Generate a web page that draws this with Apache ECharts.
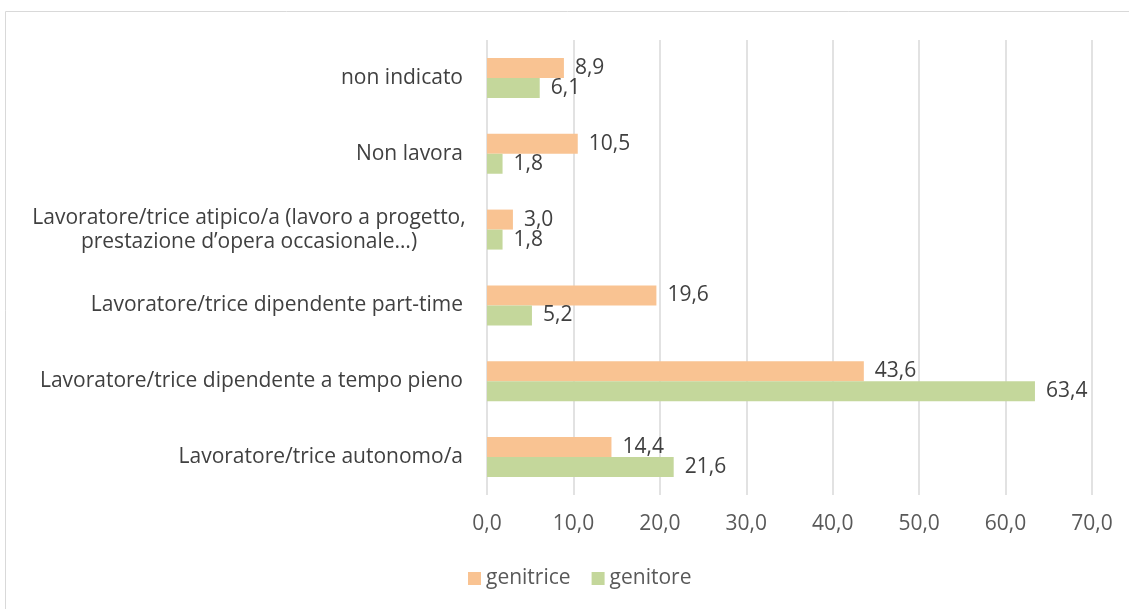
<!DOCTYPE html>
<html>
<head>
<meta charset="utf-8">
<script src="https://cdn.jsdelivr.net/npm/echarts@6/dist/echarts.min.js"></script>
<style>
html, body { margin: 0; padding: 0; background: #fff; }
#chart { width: 1129px; height: 609px; }
</style>
</head>
<body>
<div id="chart"></div>
<script>
// categories from bottom to top
var categories = [
	'Lavoratore/trice autonomo/a',
	'Lavoratore/trice dipendente a tempo pieno',
	'Lavoratore/trice dipendente part-time',
	'Lavoratore/trice atipico/a (lavoro a progetto,\nprestazione d\u2019opera occasionale\u2026)',
	'Non lavora',
	'non indicato'
];
var genitrice = [14.4, 43.6, 19.6, 3.0, 10.5, 8.9];
var genitore = [21.6, 63.4, 5.2, 1.8, 1.8, 6.1];
var xTicks = [0, 10, 20, 30, 40, 50, 60, 70];

var fontName = '"Open Sans", sans-serif';
var fs = 21;

function fmt(v){
	return Number(v).toFixed(1).replace('.', ',');
}

var myChart = echarts.init(document.getElementById('chart'));
var option = {
	animation: false,
	textStyle: { fontFamily: fontName },
	graphic: [{
		type: 'rect',
		shape: { x: 5.5, y: 11.5, width: 1200, height: 700 },
		style: { fill: 'none', stroke: '#d9d9d9', lineWidth: 1 },
		silent: true
	}],
	grid: {
		left: 487,
		right: 37,
		top: 40,
		bottom: 114
	},
	legend: {
		bottom: 15,
		left: 463,
		itemWidth: 13,
		itemHeight: 13,
		itemGap: 21,
		icon: 'rect',
		textStyle: { fontSize: fs, color: '#595959', fontFamily: fontName },
		data: ['genitrice', 'genitore']
	},
	xAxis: {
		type: 'value',
		min: xTicks[0],
		max: xTicks[xTicks.length - 1],
		interval: 10,
		axisLine: { show: false },
		axisTick: { show: false },
		splitLine: { lineStyle: { color: '#d9d9d9', width: 1.5 } },
		axisLabel: {
			margin: 19,
			fontSize: fs,
			color: '#595959',
			formatter: fmt
		}
	},
	yAxis: {
		type: 'category',
		data: categories,
		axisLine: { show: false },
		axisTick: { show: false },
		axisLabel: {
			margin: 24,
			fontSize: fs,
			color: '#404040',
			lineHeight: 24,
			formatter: function(v){
				if (v.indexOf('\n') >= 0) {
					return v.split('\n').map(function(s){ return '{c|' + s + '}'; }).join('\n');
				}
				return v;
			},
			rich: {
				c: { width: 428, align: 'center', fontSize: fs, color: '#404040', lineHeight: 24, fontFamily: fontName }
			}
		}
	},
	series: [{
		name: 'genitrice',
		type: 'bar',
		data: genitrice,
		barWidth: 20,
		barGap: '0%',
		itemStyle: { color: '#F9C392' },
		label: {
			show: true,
			position: 'right',
			distance: 11,
			fontSize: fs,
			color: '#404040',
			formatter: function(p){ return fmt(p.value); }
		}
	}, {
		name: 'genitore',
		type: 'bar',
		data: genitore,
		barWidth: 20,
		barGap: '0%',
		itemStyle: { color: '#C4D79B' },
		label: {
			show: true,
			position: 'right',
			distance: 11,
			fontSize: fs,
			color: '#404040',
			formatter: function(p){ return fmt(p.value); }
		}
	}]
};
myChart.setOption(option);
</script>
</body>
</html>
